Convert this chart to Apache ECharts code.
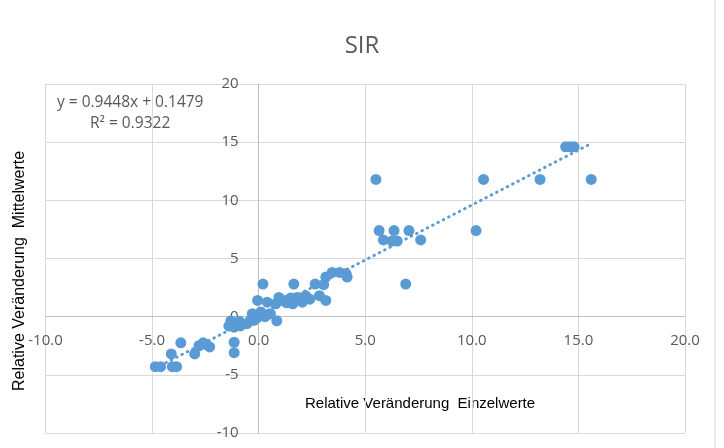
<!DOCTYPE html>
<html>
<head>
<meta charset="utf-8">
<script src="https://cdn.jsdelivr.net/npm/echarts@6/dist/echarts.min.js"></script>
<style>
    html, body { margin: 0; padding: 0; background: #fff; }
    #sir_chart { width: 724px; height: 448px; }
</style>
</head>
<body>
<div id="sir_chart"></div>
<script>
// Einzelwerte (x) / Mittelwerte (y)
const einzelwerte = [
    5.5, 10.55, 13.2, 15.6, 14.4, 14.6, 14.8, 10.2, 6.9,
    5.65, 5.85, 6.35, 6.25, 6.5, 7.05, 7.6,
    1.65, 0.95, 1.25, 1.6, 1.8, 2.2, 2.05, 2.65, 3.15, 3.45, 3.8, 4.1, 4.15,
    2.85, 3.15, 3.05, 0.8, 1.3, 1.5, 2.4,
    0.2, -0.05, 0.4, 1.0, -0.3, 0.1, 0.55, 0.85, -1.3, -1.15, -0.85, -0.55,
    -0.4, -0.05, -1.15, -1.15, -1.4, -0.9, -0.2, 0.3,
    -4.85, -4.6, -4.05, -3.85, -4.1, -3.65, -3.0, -2.8, -2.6, -2.3, -2.45
];
const mittelwerte = [
    11.8, 11.8, 11.8, 11.8, 14.6, 14.6, 14.6, 7.4, 2.8,
    7.4, 6.6, 7.4, 6.5, 6.5, 7.4, 6.6,
    2.8, 1.65, 1.4, 1.1, 1.65, 1.8, 1.25, 2.8, 3.4, 3.8, 3.8, 3.7, 3.4,
    1.8, 1.4, 2.75, 1.1, 1.2, 1.6, 1.5,
    2.8, 1.4, 1.25, 1.4, 0.25, 0.4, 0.25, -0.35, -0.35, -0.9, -0.8, -0.6,
    -0.35, -0.05, -2.2, -3.1, -0.8, -0.4, -0.3, 0.0,
    -4.3, -4.3, -4.3, -4.3, -3.2, -2.25, -3.2, -2.5, -2.25, -2.6, -2.4
];
// linearer Trend (aus Excel)
const slope = 0.9448;
const intercept = 0.1479;
const rSquared = 0.9322;

const axisMin = -10;
const axisMax = 20;

const points = einzelwerte.map((x, i) => [x, mittelwerte[i]]);
const xMin = Math.min(...einzelwerte);
const xMax = Math.max(...einzelwerte);
const trend = [xMin, xMax].map(x => [x, slope * x + intercept]);

const gray = '#595959';
const W = 724, H = 448;
const grid = { left: 45.5, right: 39, top: 84, bottom: 15 };
// Achsen kreuzen bei 0 -> Achsen samt Beschriftung dorthin verschieben
const zeroFrac = (0 - axisMin) / (axisMax - axisMin);
const xOffset = -(H - grid.top - grid.bottom) * zeroFrac;
const yOffset = -(W - grid.left - grid.right) * zeroFrac;

const option = {
    animation: false,
    title: {
        text: 'SIR',
        left: 'center',
        top: 29,
        textStyle: { fontFamily: 'Open Sans', fontSize: 24, fontWeight: 'normal', color: gray }
    },
    grid: grid,
    xAxis: {
        type: 'value',
        min: axisMin,
        max: axisMax,
        interval: 5,
        position: 'bottom',
        offset: xOffset,
        axisLine: { onZero: false, lineStyle: { color: '#bfbfbf', width: 1 } },
        axisTick: { show: false },
        axisLabel: {
            formatter: v => v.toFixed(1),
            color: gray,
            fontFamily: 'Open Sans',
            fontSize: 15,
            margin: 17
        },
        splitLine: { lineStyle: { color: '#d9d9d9', width: 1 } }
    },
    yAxis: {
        type: 'value',
        min: axisMin,
        max: axisMax,
        interval: 5,
        position: 'left',
        offset: yOffset,
        axisLine: { onZero: false, lineStyle: { color: '#bfbfbf', width: 1 } },
        axisTick: { show: false },
        axisLabel: {
            color: gray,
            fontFamily: 'Open Sans',
            fontSize: 15,
            margin: 20
        },
        splitLine: { lineStyle: { color: '#d9d9d9', width: 1 } }
    },
    graphic: [
        {
            type: 'text', left: 57, top: 95,
            style: { text: 'y = ' + slope + 'x + ' + intercept, fill: gray, font: '15.5px "Open Sans"' }
        },
        {
            type: 'text', left: 90, top: 116,
            style: { text: 'R² = ' + rSquared, fill: gray, font: '15.5px "Open Sans"' }
        },
        {
            type: 'text', left: 305, top: 396,
            style: { text: 'Relative Veränderung  Einzelwerte', fill: '#000', font: '15px "Liberation Sans"' }
        },
        {
            type: 'text', x: 12, y: 391, rotation: Math.PI / 2,
            style: { text: 'Relative Veränderung  Mittelwerte', fill: '#000', font: '16px "Liberation Sans"' }
        },
        {
            type: 'line', shape: { x1: 715, y1: 0, x2: 715, y2: 448 },
            style: { stroke: '#d9d9d9', lineWidth: 1 }
        }
    ],
    series: [
        {
            type: 'scatter',
            data: points,
            symbolSize: 11,
            itemStyle: { color: '#5b9bd5', opacity: 1 },
            z: 3
        },
        {
            type: 'line',
            data: trend,
            symbol: 'none',
            lineStyle: { color: '#5b9bd5', width: 3, type: [0.5, 5.5], cap: 'round' },
            z: 4
        }
    ]
};

const sirChart = echarts.init(document.getElementById('sir_chart'));
sirChart.setOption(option);
</script>
</body>
</html>
